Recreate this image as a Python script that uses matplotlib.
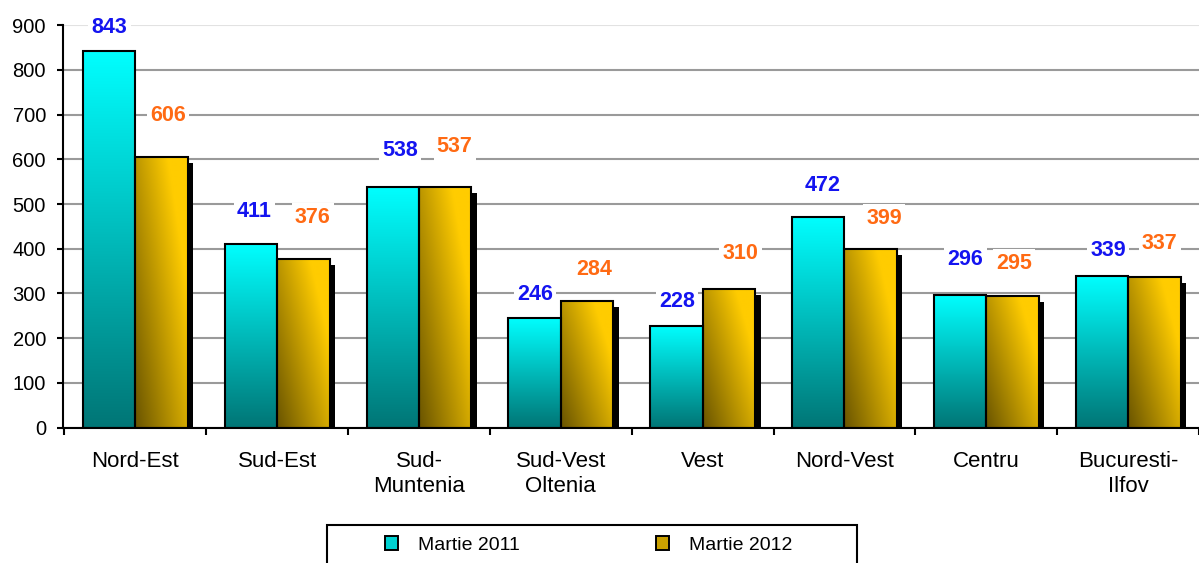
import numpy as np
import matplotlib
matplotlib.use('Agg')
import matplotlib.pyplot as plt
from matplotlib.patches import Rectangle, Patch
import matplotlib.transforms as mtransforms

plt.rcParams['font.family'] = ['Liberation Sans', 'DejaVu Sans']

# ---------------- data ----------------
regions = ['Nord-Est', 'Sud-Est', 'Sud-\nMuntenia', 'Sud-Vest\nOltenia', 'Vest',
           'Nord-Vest', 'Centru', 'Bucuresti-\nIlfov']
martie_2011 = [843, 411, 538, 246, 228, 472, 296, 339]
martie_2012 = [606, 376, 537, 284, 310, 399, 295, 337]
series_names = ['Martie 2011', 'Martie 2012']
y_ticks = list(range(0, 1000, 100))

# ---------------- layout / style ----------------
# label offsets in pixels (dx, dy) from top-centre of each bar
off_2011 = [(0.5, 22.7), (3.5, 31.8), (7, 37), (0.5, 23.5), (0.5, 23.6), (4.5, 31.5), (5.5, 36), (6.5, 25)]
off_2012 = [(6.5, 41.6), (9.5, 42.4), (9.5, 40.5), (7.5, 31.5), (11.5, 35), (13.5, 31), (1.5, 32.6), (5.5, 33)]

W, H = 1199, 563
fig = plt.figure(figsize=(W / 100, H / 100), dpi=100)
ax = fig.add_axes([63 / W, (H - 427.5) / H, (W - 63) / W, 402.3 / H])

x = np.arange(len(regions))
bw = 0.37

cyan_top = np.array([0, 255, 255]) / 255
cyan_bot = np.array([0, 118, 118]) / 255
gold_dark = np.array([105, 84, 0]) / 255
gold_light = np.array([255, 204, 0]) / 255

# shadows for the 2012 bars
shadow_tr = ax.transData + mtransforms.ScaledTranslation(5.5 / 100, -6 / 100, fig.dpi_scale_trans)
ax.bar(x + bw / 2, martie_2012, bw, color='black', zorder=1.5, transform=shadow_tr)

bars11 = ax.bar(x - bw / 2, martie_2011, bw, facecolor='none', edgecolor='black', linewidth=1.5, zorder=3)
bars12 = ax.bar(x + bw / 2, martie_2012, bw, facecolor='none', edgecolor='black', linewidth=1.5, zorder=3)

# gradients
ny = 200
yf = np.linspace(1, 0, ny)[:, None]
cyan_img = (cyan_bot[None, None, :] + (cyan_top - cyan_bot)[None, None, :] * yf[:, :, None])
nx = 60
xf = np.linspace(0, 1, nx)[None, :]
t = np.clip(0.72 * xf + 0.55 * yf, 0, 1)
gold_img = gold_dark[None, None, :] + (gold_light - gold_dark)[None, None, :] * t[:, :, None]

for b in bars11:
    im = ax.imshow(cyan_img, extent=[b.get_x(), b.get_x() + b.get_width(), 0, b.get_height()],
                   aspect='auto', zorder=2, interpolation='bilinear')
    im.set_clip_path(b)
for b in bars12:
    im = ax.imshow(gold_img, extent=[b.get_x(), b.get_x() + b.get_width(), 0, b.get_height()],
                   aspect='auto', zorder=2, interpolation='bilinear')
    im.set_clip_path(b)

# value labels
for bars, vals, offs, col in [(bars11, martie_2011, off_2011, '#1414F0'),
                              (bars12, martie_2012, off_2012, '#FF6A13')]:
    for b, v, (dx, dy) in zip(bars, vals, offs):
        ax.annotate(str(v), xy=(b.get_x() + b.get_width() / 2, v), xytext=(dx, dy),
                    textcoords='offset pixels', ha='center', va='center', fontsize=15.5,
                    fontweight='bold', color=col, zorder=5,
                    bbox=dict(boxstyle='square,pad=0.15', fc='white', ec='none'))

ax.set_xlim(-0.51, -0.51 + 1136 / 143)
ax.set_ylim(0, 900)
ax.set_yticks(y_ticks)
ax.set_yticklabels([str(v) for v in y_ticks], fontsize=14.5)
ax.set_xticks(x)
ax.set_xticklabels(regions, fontsize=16, linespacing=1.25)
ax.set_xticks(np.arange(-0.5, len(regions), 1), minor=True)
ax.tick_params(axis='x', which='major', length=0, pad=17)
ax.tick_params(axis='x', which='minor', length=5, width=1.5, direction='out')
ax.tick_params(axis='y', length=4.3, width=1.5, direction='out', pad=8)

ax.set_axisbelow(True)
ax.yaxis.grid(True, color='#9a9a9a', linewidth=1.5)
gl = ax.get_ygridlines()
gl[-1].set_color('#e2e2e2')
for s in ['top', 'right']:
    ax.spines[s].set_visible(False)
for s in ['left', 'bottom']:
    ax.spines[s].set_linewidth(1.5)
    ax.spines[s].set_color('black')

# legend
handles = [Patch(facecolor='#00D2D2', edgecolor='black', linewidth=1.4),
           Patch(facecolor='#C9A000', edgecolor='black', linewidth=1.4)]
fig.legend(handles, series_names, loc='center', bbox_to_anchor=(588.5 / W, 1 - 545 / H),
           ncol=2, frameon=False, fontsize=14, handlelength=0.7, handleheight=0.7,
           handletextpad=1.0, columnspacing=7.0)
fig.add_artist(Rectangle((327 / W, -0.05), 530 / W, (H - 525) / H + 0.05, transform=fig.transFigure,
                         fill=False, edgecolor='black', linewidth=1.5))

fig.savefig('out.png', dpi=100)
